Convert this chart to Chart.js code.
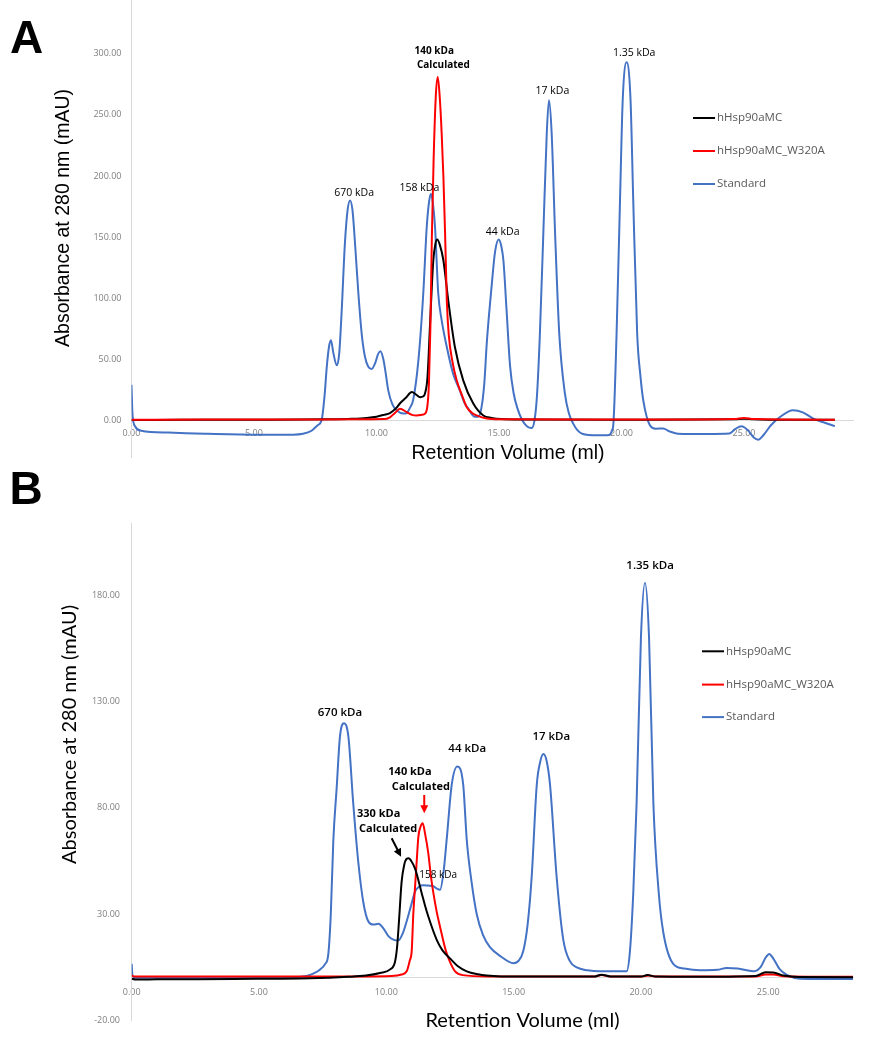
<!DOCTYPE html>
<html>
<head>
<meta charset="utf-8">
<script src="https://cdn.jsdelivr.net/npm/chart.js@4.4.1/dist/chart.umd.min.js"></script>
<style>
  body { margin: 0; background: #fff; }
  .panel { position: absolute; left: 0; width: 875px; }
  #panelA { top: 0; height: 470px; }
  #panelB { top: 470px; height: 580px; }
</style>
</head>
<body>
<div class="panel" id="panelA"><canvas id="chartA" width="875" height="470"></canvas></div>
<div class="panel" id="panelB"><canvas id="chartB" width="875" height="580"></canvas></div>
<script>
// series + axis ticks
const seriesNames = ['hHsp90aMC', 'hHsp90aMC_W320A', 'Standard'];
const seriesColors = ['#000000', '#ff0000', '#4472c4'];
const xTicks = [0, 5, 10, 15, 20, 25];
const yTicksA = [0, 50, 100, 150, 200, 250, 300];
const yTicksB = [-20, 30, 80, 130, 180];
const xTitle = 'Retention Volume (ml)';
const yTitle = 'Absorbance at 280 nm (mAU)';

// Panel A - hHsp90aMC
const aBlackX = [0, 2, 5, 7, 8, 9, 9.6, 10.0, 10.3, 10.55,
  10.8, 10.96, 11.2, 11.44, 11.62, 11.78, 11.9, 11.98, 12.08, 12.18,
  12.26, 12.32, 12.4, 12.48, 12.58, 12.73, 12.93, 13.2, 13.54, 13.95,
  14.36, 14.7, 15.1, 16, 20, 24.6, 25.0, 25.4, 26, 28.71];
const aBlackY = [0.3, 0.4, 0.5, 0.6, 0.8, 1.3, 2, 3, 4.5, 6,
  10, 14, 18.5, 23.2, 21, 19, 19.5, 22, 35, 76,
  110, 131, 144, 148, 144, 131, 98, 60, 32.7, 13.7,
  4, 2, 1, 0.6, 0.5, 0.8, 1.3, 0.8, 0.5, 0.4];

// Panel A - hHsp90aMC_W320A
const aRedX = [0, 3, 6, 9, 10.3, 10.55, 10.75, 10.96, 11.23, 11.45,
  11.64, 11.85, 11.98, 12.08, 12.14, 12.2, 12.26, 12.33, 12.42, 12.5,
  12.58, 12.66, 12.73, 12.8, 12.87, 12.95, 13.1, 13.27, 13.5, 13.68,
  13.9, 14.16, 14.5, 15, 18, 22, 24.6, 25.0, 25.4, 28.71];
const aRedY = [0.5, 0.6, 0.6, 0.8, 1, 2.5, 6, 9.5, 6.8, 4.5,
  4, 4.5, 5.5, 12, 30, 76, 150, 212, 265, 281,
  265, 235, 200, 153, 98, 70, 48, 33, 20, 11,
  6, 3.5, 1.5, 0.8, 0.6, 0.6, 1, 2, 1, 0.5];

// Panel A - Standard
const aBlueX = [0, 0.04, 0.15, 0.4, 1.5, 3, 5, 6.6, 7.0, 7.35,
  7.6, 7.76, 7.88, 7.97, 8.06, 8.14, 8.24, 8.38, 8.48, 8.58,
  8.71, 8.82, 8.92, 9.02, 9.14, 9.26, 9.4, 9.53, 9.66, 9.8,
  9.95, 10.06, 10.16, 10.28, 10.38, 10.48, 10.65, 10.82, 11.1, 11.23,
  11.36, 11.5, 11.71, 11.91, 12.05, 12.14, 12.22, 12.3, 12.39, 12.52,
  12.66, 12.87, 13.13, 13.4, 13.6, 13.75, 14.0, 14.15, 14.29, 14.4,
  14.5, 14.6, 14.7, 14.84, 14.99, 15.1, 15.18, 15.31, 15.45, 15.6,
  15.75, 15.95, 16.15, 16.33, 16.45, 16.55, 16.67, 16.81, 16.95, 17.04,
  17.15, 17.29, 17.46, 17.69, 17.85, 18.03, 18.2, 18.4, 19.0, 19.5,
  19.6, 19.67, 19.8, 19.94, 20.05, 20.21, 20.37, 20.48, 20.64, 20.78,
  20.89, 21.16, 21.4, 21.7, 21.95, 22.3, 23.5, 24.4, 24.65, 24.9,
  25.15, 25.4, 25.58, 25.8, 26.1, 26.47, 27.0, 27.4, 27.83, 28.3,
  28.71];
const aBlueY = [29, 5, -5, -8.5, -10, -11, -11.7, -11.7, -11, -8.5,
  -4, 0, 20, 43.6, 60, 65.5, 55, 45, 55, 90,
  144.6, 172, 180, 172, 140, 104, 70, 52, 44, 42,
  47, 54, 56.5, 50, 38, 24.5, 13, 8.2, 5.5, 6,
  10, 17, 49, 104, 158, 178, 185.5, 178, 158, 104,
  82, 60, 38, 24.5, 14, 9.5, 3, 3, 11, 30,
  62.8, 88, 110, 138, 148, 142, 131, 90, 45, 22,
  10, 0, -5, -6.3, 0, 20, 71, 153, 235, 262,
  235, 153, 71, 22, 6, -2.7, -8, -11, -12.3, -12,
  -9, -2.7, 71, 180, 262, 293, 262, 180, 71, 35,
  16.4, -4, -6.8, -6.6, -9, -10.9, -11.2, -10.8, -7, -4.9,
  -8, -14, -15.8, -12, -4, 2.7, 8.2, 6.5, 1.4, -2,
  -4.7];

// Panel B - hHsp90aMC
const bBlackX = [0, 0.15, 1, 4, 7, 8.5, 9.2, 9.75, 10.15, 10.34,
  10.42, 10.5, 10.6, 10.7, 10.8, 10.88, 10.98, 11.13, 11.39, 11.52,
  11.65, 11.98, 12.2, 12.5, 12.8, 13.16, 13.6, 13.94, 14.5, 16,
  18.2, 18.45, 18.8, 20.0, 20.25, 20.6, 22, 24.5, 24.9, 25.2,
  25.6, 26.2, 28.33];
const bBlackY = [-0.5, -0.9, -0.8, -0.6, -0.3, 0.4, 1, 2.2, 3.9, 7.4,
  14, 27, 45, 53, 56, 56.3, 55, 51.4, 39.8, 34,
  28.8, 17.8, 13, 9.1, 5.5, 3, 1.6, 1, 0.6, 0.5,
  0.6, 1.4, 0.6, 0.5, 1.2, 0.5, 0.4, 0.8, 2.5, 2.4,
  1, 0.3, 0.2];

// Panel B - hHsp90aMC_W320A
const bRedX = [0, 0.1, 2, 6, 9, 10.2, 10.6, 10.8, 10.92, 11.0,
  11.06, 11.13, 11.2, 11.26, 11.34, 11.43, 11.52, 11.65, 11.75, 11.85,
  11.98, 12.11, 12.33, 12.5, 12.7, 13.0, 14, 18.2, 18.45, 18.8,
  20.0, 20.3, 20.6, 24.5, 24.9, 25.2, 25.6, 28.33];
const bRedY = [1, 0.5, 0.5, 0.6, 0.6, 0.8, 1.5, 3, 8, 13,
  30, 42.9, 56, 66.5, 71, 72.8, 68, 58.6, 48, 39.8,
  31, 24, 13, 7.4, 3, 1.2, 0.6, 0.6, 1.2, 0.6,
  0.5, 1, 0.5, 0.5, 1.5, 1.5, 0.7, 0.4];

// Panel B - Standard
const bBlueX = [0, 0.03, 0.15, 2, 5, 6.5, 6.87, 7.15, 7.4, 7.6,
  7.72, 7.82, 7.92, 8.05, 8.18, 8.34, 8.51, 8.7, 8.9, 9.1,
  9.29, 9.5, 9.69, 9.9, 10.08, 10.3, 10.47, 10.65, 10.8, 10.95,
  11.13, 11.3, 11.45, 11.65, 11.85, 11.98, 12.11, 12.25, 12.37, 12.57,
  12.79, 13.02, 13.16, 13.35, 13.55, 13.8, 14.07, 14.5, 14.99, 15.2,
  15.38, 15.55, 15.71, 15.91, 16.05, 16.17, 16.3, 16.43, 16.69, 16.95,
  17.2, 17.48, 17.9, 18.39, 19.0, 19.44, 19.57, 19.7, 19.83, 20.0,
  20.16, 20.32, 20.49, 20.7, 20.88, 21.27, 21.7, 22.32, 23.0, 23.37,
  23.8, 24.41, 24.7, 24.9, 25.04, 25.2, 25.45, 25.73, 26.25, 27.0,
  28.33];
const bBlueY = [6.5, 1, 0, 0, 0, 0.3, 0.75, 2, 3.9, 6.5,
  10.9, 30, 64.9, 89.3, 113.7, 119.9, 113.7, 82.3, 54.4, 35.3,
  26.6, 25, 25.4, 23, 19.6, 17.8, 17.5, 21, 26.6, 33,
  40.5, 43, 43.6, 43.4, 43.1, 42, 41.4, 50, 64.9, 91,
  99.5, 91, 64.9, 45, 30, 20, 14.4, 10, 6.8, 8,
  12.6, 25, 47.5, 91, 102, 105.4, 102, 91, 47.5, 17.9,
  8, 4.8, 3.5, 3, 3, 3, 12.6, 40, 82, 160,
  186.1, 160, 82, 40, 21.3, 6.5, 4.3, 3.5, 3.7, 4.6,
  4.3, 3, 5, 9.5, 11.2, 9, 4, 1.3, -0.5, -0.6,
  -0.6];

Chart.defaults.font.family = '"Open Sans", sans-serif';

function toPoints(xs, ys) {
  return xs.map((x, i) => ({ x: x, y: ys[i] }));
}

function line(idx, xs, ys) {
  return {
    label: seriesNames[idx],
    data: toPoints(xs, ys),
    borderColor: seriesColors[idx],
    backgroundColor: seriesColors[idx],
    borderWidth: 2,
    pointRadius: 0,
    fill: false,
    cubicInterpolationMode: 'monotone',
  };
}

// labels, arrows, legend, titles drawn on top of the chart
function notesPlugin(n) {
  return {
    id: 'notes',
    afterDraw(chart) {
      const c = chart.ctx;
      const sx = chart.scales.x;
      const sy = chart.scales.y;
      c.save();
      c.fillStyle = '#000';
      c.textAlign = 'left';
      c.textBaseline = 'alphabetic';
      c.font = 'bold 46px "Liberation Sans", Arial, sans-serif';
      c.fillText(n.letter, n.letterAt[0], n.letterAt[1]);

      c.textAlign = 'center';
      c.textBaseline = 'middle';
      c.font = n.titleFont;
      c.fillText(xTitle, n.xTitleAt[0], n.xTitleAt[1]);
      c.save();
      c.translate(n.yTitleAt[0], n.yTitleAt[1]);
      c.rotate(-Math.PI / 2);
      c.fillText(yTitle, 0, 0);
      c.restore();

      n.labels.forEach(l => {
        c.font = l.font;
        c.fillStyle = '#000';
        c.fillText(l.text, sx.getPixelForValue(l.at[0]), sy.getPixelForValue(l.at[1]));
      });

      n.arrows.forEach(a => {
        const x0 = sx.getPixelForValue(a.from[0]), y0 = sy.getPixelForValue(a.from[1]);
        const x1 = sx.getPixelForValue(a.to[0]), y1 = sy.getPixelForValue(a.to[1]);
        const ang = Math.atan2(y1 - y0, x1 - x0);
        const cs = Math.cos(ang), sn = Math.sin(ang);
        c.strokeStyle = a.color;
        c.fillStyle = a.color;
        c.lineWidth = 2;
        c.beginPath();
        c.moveTo(x0, y0);
        c.lineTo(x1 - 5 * cs, y1 - 5 * sn);
        c.stroke();
        c.beginPath();
        c.moveTo(x1, y1);
        c.lineTo(x1 - 8 * cs + 4 * sn, y1 - 8 * sn - 4 * cs);
        c.lineTo(x1 - 8 * cs - 4 * sn, y1 - 8 * sn + 4 * cs);
        c.closePath();
        c.fill();
      });

      c.font = '11.5px "Open Sans", sans-serif';
      c.textAlign = 'left';
      c.textBaseline = 'middle';
      seriesNames.forEach((name, i) => {
        const y = n.legend.y[i];
        c.strokeStyle = seriesColors[i];
        c.lineWidth = 2;
        c.beginPath();
        c.moveTo(n.legend.x, y);
        c.lineTo(n.legend.x + 22, y);
        c.stroke();
        c.fillStyle = '#595959';
        c.fillText(name, n.legend.x + 24, y);
      });
      c.restore();
    }
  };
}

function makeChart(id, cfg) {
  const ctx = document.getElementById(id).getContext('2d');
  const tickFont = { family: '"Open Sans", sans-serif', size: 9 };
  return new Chart(ctx, {
    type: 'line',
    data: { datasets: cfg.datasets },
    options: {
      responsive: false,
      animation: false,
      events: [],
      layout: { padding: cfg.padding },
      plugins: { legend: { display: false }, tooltip: { enabled: false } },
      scales: {
        x: {
          type: 'linear',
          min: 0,
          max: cfg.xMax,
          position: { y: 0 },
          grid: { display: false, drawTicks: false },
          border: { display: true, color: '#d9d9d9', width: 1 },
          afterFit: s => { s.height = 0; s.paddingLeft = 0; s.paddingRight = 0; s.paddingTop = 0; s.paddingBottom = 0; },
          afterBuildTicks: s => { s.ticks = xTicks.map(v => ({ value: v })); },
          ticks: {
            padding: cfg.xPad, color: '#7f7f7f', font: tickFont,
            maxRotation: 0, autoSkip: false,
            callback: v => Number(v).toFixed(2),
          },
        },
        y: {
          type: 'linear',
          min: cfg.yMin,
          max: cfg.yMax,
          grid: { display: false, drawTicks: false },
          border: { display: true, color: '#d9d9d9', width: 1 },
          afterFit: s => { s.width = cfg.yWidth; s.paddingTop = 0; s.paddingBottom = 0; s.paddingLeft = 0; s.paddingRight = 0; },
          afterBuildTicks: s => { s.ticks = cfg.yTicks.map(v => ({ value: v })); },
          ticks: {
            padding: cfg.yPad, color: '#7f7f7f', font: tickFont,
            callback: v => Number(v).toFixed(2),
          },
        },
      },
    },
    plugins: [notesPlugin(cfg.notes)],
  });
}

const regular = (s) => s + 'px "Open Sans", sans-serif';
const bold = (s) => 'bold ' + s + 'px "Open Sans", sans-serif';
const semi = (s) => '600 ' + s + 'px "Open Sans", sans-serif';

makeChart('chartA', {
  datasets: [line(1, aRedX, aRedY), line(0, aBlackX, aBlackY), line(2, aBlueX, aBlueY)],
  padding: { left: 0, top: 0, right: 22, bottom: 13 },
  xMax: 29.45,
  yMin: -30,
  yMax: 344,
  yTicks: yTicksA,
  yWidth: 131.5,
  xPad: 7.3,
  yPad: 10,
  notes: {
    letter: 'A',
    letterAt: [10, 53],
    titleFont: '19.5px "Liberation Sans", Arial, sans-serif',
    xTitleAt: [508, 453.5],
    yTitleAt: [64, 218],
    labels: [
      { text: '140 kDa', at: [12.36, 302], font: bold(10) },
      { text: 'Calculated', at: [12.73, 290.3], font: bold(10) },
      { text: '670 kDa', at: [9.09, 186.3], font: regular(10.5) },
      { text: '158 kDa', at: [11.75, 190.5], font: regular(10.5) },
      { text: '44 kDa', at: [15.15, 154.3], font: regular(10.5) },
      { text: '17 kDa', at: [17.18, 269.5], font: regular(10.5) },
      { text: '1.35 kDa', at: [20.52, 300.3], font: regular(10.5) },
    ],
    arrows: [],
    legend: { x: 693, y: [118, 151, 184] },
  },
});

makeChart('chartB', {
  datasets: [line(0, bBlackX, bBlackY), line(1, bRedX, bRedY), line(2, bBlueX, bBlueY)],
  padding: { left: 0, top: 53.6, right: 22, bottom: 29.9 },
  xMax: 28.33,
  yMin: -20,
  yMax: 214,
  yTicks: yTicksB,
  yWidth: 131.7,
  xPad: 9.4,
  yPad: 11.7,
  notes: {
    letter: 'B',
    letterAt: [9.5, 33.5],
    titleFont: '20px Lato, "Open Sans", sans-serif',
    xTitleAt: [522.5, 551],
    yTitleAt: [70, 264.5],
    labels: [
      { text: '670 kDa', at: [8.18, 125.1], font: semi(11.5) },
      { text: '44 kDa', at: [13.18, 107.7], font: semi(11.5) },
      { text: '17 kDa', at: [16.48, 113.4], font: semi(11.5) },
      { text: '1.35 kDa', at: [20.36, 194.3], font: semi(11.5) },
      { text: '140 kDa', at: [10.93, 96.8], font: bold(11) },
      { text: 'Calculated', at: [11.36, 89.7], font: bold(11) },
      { text: '330 kDa', at: [9.7, 77], font: bold(11) },
      { text: 'Calculated', at: [10.07, 70.1], font: bold(11) },
      { text: '158 kDa', at: [12.04, 48.1], font: regular(10) },
    ],
    arrows: [
      { from: [10.21, 65.7], to: [10.58, 57.0], color: '#000000' },
      { from: [11.49, 86.1], to: [11.49, 77.5], color: '#ff0000' },
    ],
    legend: { x: 702, y: [181.3, 214.6, 247.1] },
  },
});
</script>
</body>
</html>
